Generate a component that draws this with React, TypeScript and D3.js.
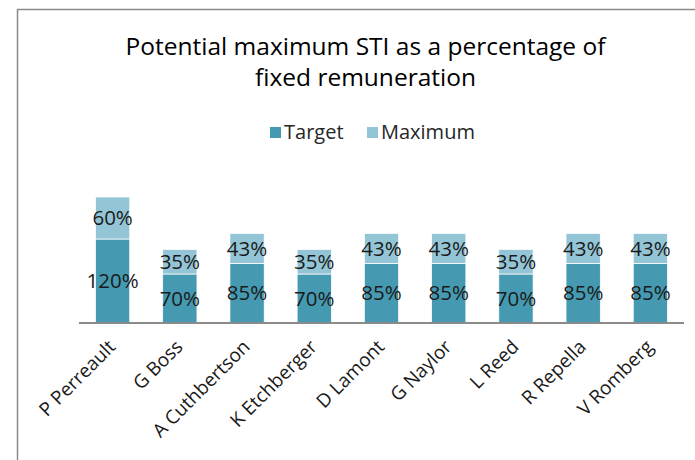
import React from "react";
import * as d3 from "d3";

const categories = ["P Perreault", "G Boss", "A Cuthbertson", "K Etchberger", "D Lamont", "G Naylor", "L Reed", "R Repella", "V Romberg"];
const targetValues = [120, 70, 85, 70, 85, 85, 70, 85, 85];
const maximumValues = [60, 35, 43, 35, 43, 43, 35, 43, 43];
const seriesNames = ["Target", "Maximum"];
const titleLines = ["Potential maximum STI as a percentage of", "fixed remuneration"];

const W = 695, H = 460;
const COLORS = ["#4599B0", "#93C5D7"];
const FONT = "'Open Sans', sans-serif";

export default function App() {
  const x = d3.scaleBand<string>().domain(categories).range([79, 684]).paddingInner(0.49).paddingOuter(0.245);
  const y = d3.scaleLinear().domain([0, 200]).range([323, 183]);
  const rows = categories.map((c, i) => ({ cat: c, Target: targetValues[i], Maximum: maximumValues[i] }));
  const stacked = d3.stack<any>().keys(seriesNames)(rows);
  return (
    <svg width={W} height={H} style={{ position: "absolute", left: 0, top: 0, background: "#fff" }}>
      <rect x={0} y={0} width={W} height={H} fill="#fff" />
      <path d={`M17.5,${H} V9.5 H${W}`} fill="none" stroke="#8a8a8a" strokeWidth={1.5} />
      {titleLines.map((t, i) => (
        <text key={i} x={365.5} y={55 + i * 31} textAnchor="middle" fontFamily={FONT} fontSize={24.5} fill="#000">{t}</text>
      ))}
      {seriesNames.map((s, i) => {
        const lx = [270, 367][i];
        return (
          <g key={s}>
            <rect x={lx} y={127} width={11} height={11} fill={COLORS[i]} />
            <text x={lx + 14} y={139} fontFamily={FONT} fontSize={20} fill="#262626">{s}</text>
          </g>
        );
      })}
      {stacked.map((layer, si) => (
        <g key={si}>
          {layer.map((d, i) => (
            <g key={i}>
              <rect x={x(categories[i])!} y={y(d[1])} width={x.bandwidth()} height={y(d[0]) - y(d[1])} fill={COLORS[si]} stroke="#fff" strokeWidth={0.75} />
              <text x={x(categories[i])! + x.bandwidth() / 2} y={(y(d[0]) + y(d[1])) / 2} dy="0.35em" textAnchor="middle" fontFamily={FONT} fontSize={20.5} fill="#1a1a1a">{`${d[1] - d[0]}%`}</text>
            </g>
          ))}
        </g>
      ))}
      <line x1={79} x2={684} y1={323} y2={323} stroke="#8a8a8a" strokeWidth={2} />
      {categories.map((c) => {
        const cx = x(c)! + x.bandwidth() / 2 + 4;
        const cy = 348;
        return (
          <text key={c} transform={`translate(${cx},${cy}) rotate(-45)`} textAnchor="end" fontFamily={FONT} fontSize={19} fill="#1a1a1a">{c}</text>
        );
      })}
    </svg>
  );
}
